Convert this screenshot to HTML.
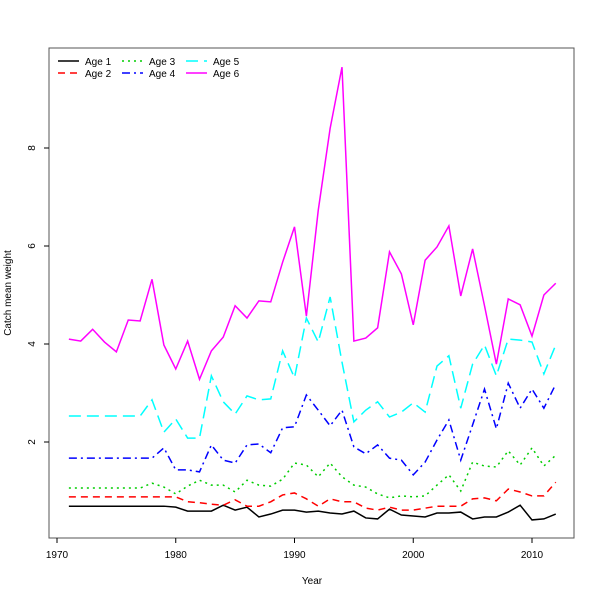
<!DOCTYPE html>
<html><head><meta charset="utf-8"><style>
html,body{margin:0;padding:0;background:#fff;}
svg{display:block;font-family:"Liberation Sans",sans-serif;}
</style></head><body>
<svg id="chart" width="600" height="600" viewBox="0 0 600 600">
<rect x="49" y="48" width="525" height="490" fill="none" stroke="#555" stroke-width="1"/>
<g id="series"></g>
<g id="axes"></g>
<text x="312" y="584" font-size="10" text-anchor="middle">Year</text>
<text x="11" y="293" font-size="10" text-anchor="middle" transform="rotate(-90 11 293)">Catch mean weight</text>
<g id="legend"></g>
</svg>
<script>
const years = [];
for (let y = 1971; y <= 2012; y++) years.push(y);
const age1 = [0.69,0.69,0.69,0.69,0.69,0.69,0.69,0.69,0.69,0.67,0.59,0.59,0.59,0.71,0.61,0.67,0.47,0.53,0.61,0.61,0.57,0.59,0.55,0.53,0.59,0.45,0.43,0.63,0.51,0.49,0.47,0.55,0.55,0.57,0.43,0.47,0.47,0.57,0.71,0.41,0.43,0.53];
const age2 = [0.88,0.88,0.88,0.88,0.88,0.88,0.88,0.88,0.88,0.88,0.78,0.76,0.73,0.71,0.82,0.69,0.69,0.78,0.92,0.96,0.84,0.69,0.84,0.78,0.78,0.65,0.61,0.67,0.61,0.61,0.65,0.69,0.69,0.69,0.84,0.86,0.80,1.04,0.98,0.90,0.90,1.18];
const age3 = [1.06,1.06,1.06,1.06,1.06,1.06,1.06,1.16,1.08,0.94,1.10,1.22,1.12,1.12,0.98,1.22,1.12,1.10,1.24,1.57,1.53,1.29,1.57,1.29,1.12,1.08,0.94,0.86,0.90,0.88,0.90,1.12,1.33,1.00,1.59,1.51,1.49,1.82,1.53,1.88,1.51,1.73];
const age4 = [1.67,1.67,1.67,1.67,1.67,1.67,1.67,1.67,1.88,1.43,1.43,1.39,1.94,1.63,1.57,1.94,1.96,1.78,2.29,2.31,2.96,2.65,2.33,2.65,1.90,1.76,1.94,1.67,1.63,1.33,1.59,2.04,2.45,1.63,2.35,3.08,2.27,3.20,2.69,3.08,2.69,3.18];
const age5 = [2.53,2.53,2.53,2.53,2.53,2.53,2.53,2.86,2.20,2.47,2.08,2.08,3.35,2.82,2.57,2.94,2.86,2.88,3.86,3.31,4.53,4.04,4.96,3.63,2.41,2.65,2.82,2.51,2.61,2.80,2.61,3.55,3.76,2.69,3.59,3.98,3.35,4.10,4.08,4.04,3.39,3.98];
const age6 = [4.10,4.06,4.30,4.04,3.84,4.49,4.47,5.32,3.98,3.49,4.06,3.28,3.86,4.14,4.78,4.53,4.88,4.86,5.67,6.39,4.57,6.73,8.40,9.65,4.06,4.12,4.33,5.88,5.43,4.39,5.71,5.98,6.41,4.98,5.94,4.78,3.59,4.92,4.80,4.16,5.00,5.24];
const xTicks = [1970,1980,1990,2000,2010];
const yTicks = [2,4,6,8];
const seriesNames = ["Age 1","Age 2","Age 3","Age 4","Age 5","Age 6"];

const NS = "http://www.w3.org/2000/svg";
function xScale(v){ return 57 + (v - 1970) * 11.875; }
function yScale(v){ return 540 - v * 49; }
const styles = [
  {c:"#000000", d:""},
  {c:"#ff0000", d:"7,5"},
  {c:"#00cd00", d:"2,4"},
  {c:"#0000ff", d:"8,4,2,4"},
  {c:"#00ffff", d:"12,6"},
  {c:"#ff00ff", d:""}
];
const allSeries = [age1, age2, age3, age4, age5, age6];
const sg = document.getElementById("series");
allSeries.forEach((vals, i) => {
  const p = document.createElementNS(NS, "polyline");
  p.setAttribute("points", vals.map((v, j) => xScale(years[j]) + "," + yScale(v)).join(" "));
  p.setAttribute("fill", "none");
  p.setAttribute("stroke", styles[i].c);
  p.setAttribute("stroke-width", "1.5");
  if (styles[i].d) p.setAttribute("stroke-dasharray", styles[i].d);
  
  
  sg.appendChild(p);
});
const ax = document.getElementById("axes");
xTicks.forEach(t => {
  const l = document.createElementNS(NS, "line");
  l.setAttribute("x1", xScale(t)); l.setAttribute("x2", xScale(t));
  l.setAttribute("y1", 538); l.setAttribute("y2", 543);
  l.setAttribute("stroke", "#000");
  
  
  ax.appendChild(l);
  const tx = document.createElementNS(NS, "text");
  tx.setAttribute("x", xScale(t)); tx.setAttribute("y", 558);
  tx.setAttribute("font-size", "10"); tx.setAttribute("text-anchor", "middle");
  tx.textContent = t;
  
  
  ax.appendChild(tx);
});
yTicks.forEach(t => {
  const l = document.createElementNS(NS, "line");
  l.setAttribute("x1", 44); l.setAttribute("x2", 49);
  l.setAttribute("y1", yScale(t)); l.setAttribute("y2", yScale(t));
  l.setAttribute("stroke", "#000");
  
  
  ax.appendChild(l);
  const tx = document.createElementNS(NS, "text");
  const yy = yScale(t);
  tx.setAttribute("x", 35); tx.setAttribute("y", yy);
  tx.setAttribute("font-size", "10"); tx.setAttribute("text-anchor", "middle");
  tx.setAttribute("transform", "rotate(-90 35 " + yy + ")");
  tx.textContent = t;
  
  
  ax.appendChild(tx);
});
const lg = document.getElementById("legend");
const lx = [58, 122, 186];
seriesNames.forEach((n, i) => {
  const col = Math.floor(i / 2), row = i % 2;
  const y = 61 + row * 12;
  const l = document.createElementNS(NS, "line");
  l.setAttribute("x1", lx[col]); l.setAttribute("x2", lx[col] + 21);
  l.setAttribute("y1", y); l.setAttribute("y2", y);
  l.setAttribute("stroke", styles[i].c); l.setAttribute("stroke-width", "1.5");
  if (styles[i].d) l.setAttribute("stroke-dasharray", styles[i].d);
  
  
  lg.appendChild(l);
  const tx = document.createElementNS(NS, "text");
  tx.setAttribute("x", lx[col] + 27); tx.setAttribute("y", y + 4);
  tx.setAttribute("font-size", "10");
  tx.textContent = n;
  
  
  lg.appendChild(tx);
});
</script>
</body></html>
